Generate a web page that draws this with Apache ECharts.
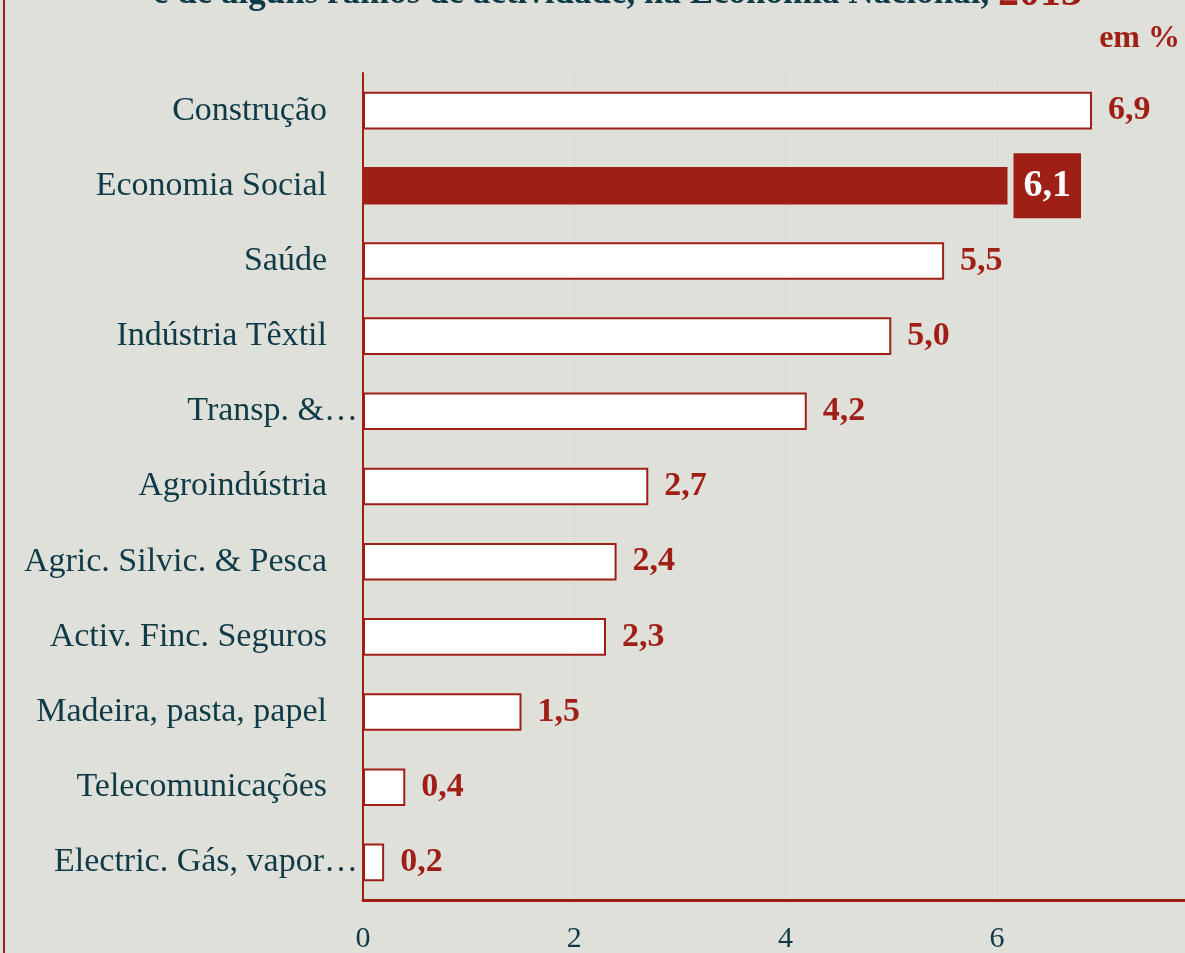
<!DOCTYPE html>
<html>
<head>
<meta charset="utf-8">
<style>
  html, body { margin: 0; padding: 0; background: #e0e0da; }
  #chart { width: 1185px; height: 953px; }
</style>
<script src="https://cdn.jsdelivr.net/npm/echarts@6/dist/echarts.min.js"></script>
</head>
<body>
<div id="chart"></div>
<script>
  // categorias (de cima para baixo)
  const categories = [
    'Construção',
    'Economia Social',
    'Saúde',
    'Indústria Têxtil',
    'Transp. &…',
    'Agroindústria',
    'Agric. Silvic. & Pesca',
    'Activ. Finc. Seguros',
    'Madeira, pasta, papel',
    'Telecomunicações',
    'Electric. Gás, vapor…',
  ];
  const values = [6.9, 6.1, 5.5, 5.0, 4.2, 2.7, 2.4, 2.3, 1.5, 0.4, 0.2];
  const highlight = 'Economia Social';
  const xTicks = [0, 2, 4, 6];

  const red = '#9f1f16';
  const teal = '#0f3a47';
  const serif = '"Liberation Serif", "DejaVu Serif", serif';

  const chart = echarts.init(document.getElementById('chart'));

  const barData = categories.map((name, i) => {
    const isHi = name === highlight;
    return {
      value: values[i],
      itemStyle: isHi
        ? { color: red, borderColor: red, borderWidth: 0 }
        : { color: '#ffffff', borderColor: red, borderWidth: 2 },
      label: isHi
        ? {
            color: '#ffffff',
            fontSize: 38,
            backgroundColor: red,
            padding: [15, 10, 12, 10],
            distance: 6,
          }
        : {},
    };
  });

  const option = {
    backgroundColor: '#e0e0da',
    animation: false,
    title: {
      text: '{a|e de alguns ramos de actividade, na Economia Nacional, }{b|2013}',
      left: 148,
      top: -32,
      textStyle: {
        rich: {
          a: { fontFamily: serif, fontSize: 35, fontWeight: 'bold', color: teal },
          b: { fontFamily: serif, fontSize: 42, fontWeight: 'bold', color: red },
        },
      },
    },
    graphic: [
      {
        type: 'rect',
        shape: { x: 3, y: 0, width: 2, height: 953 },
        style: { fill: red },
      },
      {
        type: 'text',
        right: 5,
        top: 23,
        style: {
          text: 'em %',
          fontFamily: serif,
          fontSize: 32,
          fontWeight: 'bold',
          fill: red,
        },
      },
    ],
    grid: {
      left: 363,
      right: 0,
      top: 73,
      bottom: 53,
      containLabel: false,
      outerBoundsMode: 'none',
    },
    xAxis: {
      type: 'value',
      min: 0,
      max: 7.78,
      interval: 2,
      axisLine: { show: true, lineStyle: { color: red, width: 3 } },
      axisTick: { show: false },
      splitLine: { show: true, lineStyle: { color: '#d6d6d2', width: 1 } },
      axisLabel: {
        margin: 24,
        showMaxLabel: false,
        fontFamily: serif,
        fontSize: 30,
        color: teal,
        formatter: (v) => (xTicks.includes(v) ? String(v) : ''),
      },
    },
    yAxis: {
      type: 'category',
      inverse: true,
      data: categories,
      axisLine: { show: true, lineStyle: { color: red, width: 2 } },
      axisTick: { show: false },
      axisLabel: {
        margin: 5,
        formatter: (v) => (v.endsWith('…') ? '{t|' + v + '}' : '{n|' + v + '}'),
        rich: {
          n: { fontFamily: serif, fontSize: 34, color: teal, padding: [0, 31, 0, 0] },
          t: { fontFamily: serif, fontSize: 34, color: teal },
        },
      },
    },
    series: [
      {
        type: 'bar',
        barWidth: '50%',
        data: barData,
        label: {
          show: true,
          position: 'right',
          distance: 16,
          fontFamily: serif,
          fontSize: 34,
          fontWeight: 'bold',
          color: red,
          formatter: (p) => p.value.toFixed(1).replace('.', ','),
        },
      },
    ],
  };

  chart.setOption(option);
</script>
</body>
</html>
